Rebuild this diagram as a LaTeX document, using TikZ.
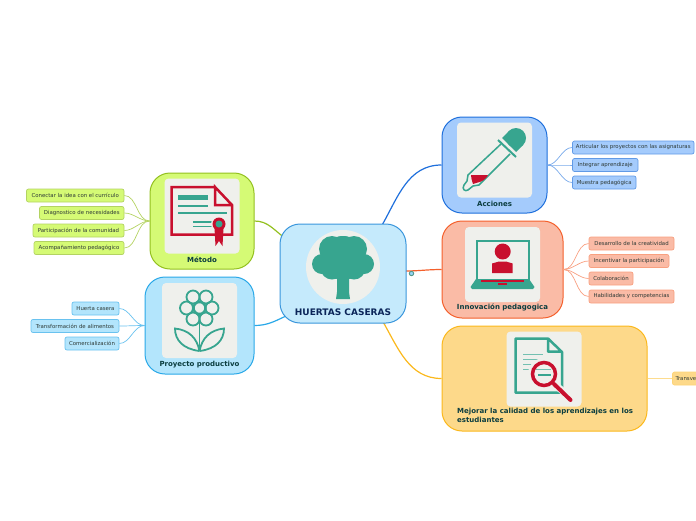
\documentclass[tikz,border=0pt]{standalone}
\usepackage{fontspec}
\usetikzlibrary{backgrounds}
\setmainfont{DejaVu Sans}
\definecolor{paper}{HTML}{EFF0EC}
\definecolor{teal1}{HTML}{37A58F}
\definecolor{red1}{HTML}{C8102E}
\definecolor{inkA}{HTML}{0B3D3F}
\definecolor{inkB}{HTML}{0B2559}
\definecolor{inkC}{HTML}{2E3A36}
\definecolor{fillH}{HTML}{C5EAFC}
\definecolor{lineH}{HTML}{3A96DC}
\definecolor{fillM}{HTML}{D5FA75}
\definecolor{lineM}{HTML}{93C01F}
\definecolor{fillP}{HTML}{B3E5FC}
\definecolor{lineP}{HTML}{29A8E8}
\definecolor{fillA}{HTML}{A4CBFC}
\definecolor{lineA}{HTML}{1E6FDC}
\definecolor{fillI}{HTML}{FABBA6}
\definecolor{lineI}{HTML}{F4602C}
\definecolor{fillC}{HTML}{FDD98A}
\definecolor{lineC}{HTML}{FBB81C}
\begin{document}
\begin{tikzpicture}[
                x=1pt, y=-1pt,
                % Stile dei riquadri principali
                topic/.style={
                    rounded corners=20pt,
                    line width=1pt,
                    inner sep=0pt
                },
                picbox/.style={
                    fill=paper,
                    rounded corners=4pt,
                    minimum width=75pt,
                    minimum height=75pt,
                    inner sep=0pt
                },
                toplabel/.style={
                    font=\fontsize{7}{9}\selectfont\bfseries,
                    text=inkA,
                    inner sep=0pt
                },
                leaf/.style={
                    rounded corners=2pt,
                    line width=0.7pt,
                    inner sep=0pt,
                    minimum height=13pt,
                    font=\fontsize{5.4}{6}\selectfont,
                    text=inkC
                },
                stem/.style={line width=0.7pt, out=180, in=0, looseness=0.9},
                stemr/.style={line width=0.7pt, out=0, in=180, looseness=0.9},
                branch/.style={line width=1.2pt}
            ]

                \useasboundingbox (0,0) rectangle (696,520);
                \clip (0,0) rectangle (696,520);

                % --- Main boxes ---
                \node[topic, draw=lineH, fill=fillH, minimum width=126pt, minimum height=99pt] (Huertas) at (343,273.5) {};
                \node[topic, draw=lineM, fill=fillM, minimum width=104pt, minimum height=96pt] (Metodo) at (202,221) {};
                \node[topic, draw=lineP, fill=fillP, minimum width=109pt, minimum height=97pt] (Proyecto) at (199.5,325.5) {};
                \node[topic, draw=lineA, fill=fillA, minimum width=105pt, minimum height=96pt] (Acciones) at (494.5,165) {};
                \node[topic, draw=lineI, fill=fillI, minimum width=121pt, minimum height=97pt] (Innovacion) at (502.5,269.5) {};
                \node[topic, draw=lineC, fill=fillC, minimum width=205pt, minimum height=105pt] (Mejorar) at (544.5,378.5) {};

                % --- Branch ends on the central box ---
                \coordinate (hubA) at (381,227);
                \coordinate (hubI) at (405,271);
                \coordinate (hubC) at (382,320);
                \coordinate (hubM) at (285,238);
                \coordinate (hubP) at (286,316);

                % --- Picture tiles ---
                \node[fill=paper, circle, minimum size=74pt, inner sep=0pt] (picH) at (343,267) {};
                \node[picbox] (picM) at (202,216) {};
                \node[picbox] (picP) at (199.5,320.5) {};
                \node[picbox] (picA) at (494.5,160) {};
                \node[picbox] (picI) at (502.5,264.5) {};
                \node[picbox] (picC) at (544,369) {};

                % --- Labels ---
                \node[toplabel, font=\fontsize{9}{10}\selectfont\bfseries, text=inkB] (lblH) at (343,312) {HUERTAS CASERAS};
                \node[toplabel] (lblM) at (202,259.5) {Método};
                \node[toplabel] (lblP) at (199.5,364.5) {Proyecto productivo};
                \node[toplabel] (lblA) at (494.5,203.5) {Acciones};
                \node[toplabel] (lblI) at (502.5,307.5) {Innovación pedagogica};
                \node[toplabel, anchor=north west, align=left] (lblC) at (457,407.5) {Mejorar la calidad de los aprendizajes en los\\estudiantes};

                % --- Leaves ---
                \node[leaf, draw=lineM!70, fill=fillM, minimum width=97.5pt] (m1) at (75.25,195.5) {Conectar la idea con el currículo};
                \node[leaf, draw=lineM!70, fill=fillM, minimum width=84.5pt] (m2) at (81.75,213) {Diagnostico de necesidades};
                \node[leaf, draw=lineM!70, fill=fillM, minimum width=91pt] (m3) at (78.5,230.5) {Participación de la comunidad};
                \node[leaf, draw=lineM!70, fill=fillM, minimum width=90pt] (m4) at (79,248) {Acompañamiento pedagógico};

                \node[leaf, draw=lineP!70, fill=fillP, minimum width=47pt] (p1) at (95.5,308.5) {Huerta casera};
                \node[leaf, draw=lineP!70, fill=fillP, minimum width=88pt] (p2) at (75,326) {Transformación de alimentos};
                \node[leaf, draw=lineP!70, fill=fillP, minimum width=54pt] (p3) at (92,343.5) {Comercialización};

                \node[leaf, draw=lineA!70, fill=fillA, minimum width=121.5pt] (a1) at (633.25,147.5) {Articular los proyectos con las asignaturas};
                \node[leaf, draw=lineA!70, fill=fillA, minimum width=65.5pt] (a2) at (605.25,165) {Integrar aprendizaje};
                \node[leaf, draw=lineA!70, fill=fillA, minimum width=63.5pt] (a3) at (604.25,182.5) {Muestra pedagógica};

                \node[leaf, draw=lineI!60, fill=fillI, minimum width=85pt] (i1) at (631.5,243.5) {Desarrollo de la creatividad};
                \node[leaf, draw=lineI!60, fill=fillI, minimum width=80pt] (i2) at (629,261) {Incentivar la participación};
                \node[leaf, draw=lineI!60, fill=fillI, minimum width=44pt] (i3) at (611,278.5) {Colaboración};
                \node[leaf, draw=lineI!60, fill=fillI, minimum width=85pt] (i4) at (631.5,296.5) {Habilidades y competencias};

                \node[leaf, draw=lineC!60, fill=fillC, minimum width=60pt, text width=54pt, align=left] (c1) at (702.5,378.5) {Transve};

                % --- Main branches ---
                \begin{scope}[on background layer]
                \draw[branch, lineA] (hubA) to[out=60, in=180] (Acciones.west);
                \draw[branch, lineI] (hubI) to[out=0, in=180] (Innovacion.west);
                \draw[branch, lineC] (hubC) to[out=-60, in=180] (Mejorar.west);
                \draw[branch, lineM] (Metodo.east) to[out=0, in=145] (hubM);
                \draw[branch, lineP] (Proyecto.east) to[out=0, in=-155] (hubP);
                \end{scope}

                % --- Leaf connectors ---
                \draw[stem, lineM!70] (Metodo.west) to (m1.east);
                \draw[stem, lineM!70] (Metodo.west) to (m2.east);
                \draw[stem, lineM!70] (Metodo.west) to (m3.east);
                \draw[stem, lineM!70] (Metodo.west) to (m4.east);
                \draw[stem, lineP!70] (Proyecto.west) to (p1.east);
                \draw[stem, lineP!70] (Proyecto.west) to (p2.east);
                \draw[stem, lineP!70] (Proyecto.west) to (p3.east);
                \draw[stemr, lineA!60] (Acciones.east) to (a1.west);
                \draw[stemr, lineA!60] (Acciones.east) to (a2.west);
                \draw[stemr, lineA!60] (Acciones.east) to (a3.west);
                \draw[stemr, lineI!60] (Innovacion.east) to (i1.west);
                \draw[stemr, lineI!60] (Innovacion.east) to (i2.west);
                \draw[stemr, lineI!60] (Innovacion.east) to (i3.west);
                \draw[stemr, lineI!60] (Innovacion.east) to (i4.west);
                \draw[stemr, lineC!50] (Mejorar.east) to (c1.west);

                % --- Link badge ---
                \draw[line width=0.9pt, teal1!60!gray, fill=lineP!50] (411.5,273.5) circle (2.2pt);

                % --- Tree ---
                \fill[teal1] (322,264) circle (10pt);
                \fill[teal1] (364,264) circle (10pt);
                \fill[teal1] (343,258) ellipse (21pt and 22pt);
                \fill[teal1] (343,250) circle (14pt);
                \fill[teal1] (332,249) circle (13pt);
                \fill[teal1] (354,249) circle (13pt);
                \fill[teal1] (332,268) circle (11.5pt);
                \fill[teal1] (354,268) circle (11.5pt);
                \fill[teal1] (337,275) -- (349,275) -- (349,292) -- (350,299) -- (336,299) -- (337,292) -- cycle;

                % --- Certificate ---
                \draw[red1, line width=2.5pt, line join=miter] (215,187) -- (171.5,187) -- (171.5,234.5) -- (232,234.5) -- (232,205) -- (215,187) -- (215,205) -- (232,205);
                \fill[teal1] (178,194.5) rectangle (208,200);
                \draw[teal1, line width=1.3pt] (178,206) -- (208,206);
                \draw[teal1, line width=1.3pt] (178,213) -- (227,213);
                \draw[teal1, line width=1.3pt] (193,222) -- (212,222);
                \draw[teal1, line width=1.3pt] (193,226.5) -- (212,226.5);
                \fill[paper] (219,224) circle (8pt);
                \fill[red1] (214.5,228) -- (215.5,246) -- (219,241) -- (222.5,246) -- (223.5,228) -- cycle;
                \fill[red1] (219,224) circle (6.5pt);
                \fill[teal1] (219,224) circle (3.5pt);

                % --- Flower ---
                \draw[teal1, line width=1.8pt] (193,297) circle (6.5pt);
                \draw[teal1, line width=1.8pt] (206,297) circle (6.5pt);
                \draw[teal1, line width=1.8pt] (186.5,308) circle (6.5pt);
                \draw[teal1, line width=1.8pt] (212,308) circle (6.5pt);
                \draw[teal1, line width=1.8pt] (193,319) circle (6.5pt);
                \draw[teal1, line width=1.8pt] (206,319) circle (6.5pt);
                \draw[teal1, line width=2.4pt, fill=paper] (199.5,308) circle (6pt);
                \draw[teal1, line width=1.8pt] (199.5,314) -- (199.5,351);
                \draw[teal1, line width=1.8pt] (199.5,351) .. controls (183,349) and (175,340) .. (175,328.5) .. controls (189,330) and (197,338) .. (199.5,351);
                \draw[teal1, line width=1.8pt] (199.5,351) .. controls (216,349) and (224,340) .. (224,328.5) .. controls (210,330) and (202,338) .. (199.5,351);

                % --- Dropper ---
                \fill[teal1] (516,138) circle (10pt);
                \fill[teal1] (509,131) -- (502,138) -- (516,152) -- (523,145) -- cycle;
                \draw[teal1, line width=2pt] (498,140) -- (516,157);
                \draw[teal1, line width=1.5pt, line join=round] (501,144) -- (468,175) -- (467,181) -- (464,185) .. controls (461.5,189) and (465,192) .. (468,190) -- (473,186) -- (479,185) -- (510,154);
                \fill[red1] (471,175) -- (488,175) .. controls (486,179) and (482,182) .. (476,183) -- (473,184) .. controls (472,181) and (471,178) .. (471,175) -- cycle;

                % --- Laptop ---
                \draw[teal1, line width=2pt, fill=paper] (476.5,240.5) rectangle (528.5,280);
                \fill[teal1] (476,279) -- (529,279) -- (534.5,287) -- (533,289) -- (472,289) -- (470.5,287) -- cycle;
                \fill[red1] (481,279.5) rectangle (524,281.5);
                \fill[red1] (498,282.5) rectangle (507,284.5);
                \fill[red1] (502.7,251.5) circle (8pt);
                \fill[red1] (492,263.5) -- (499,261.5) -- (506,261.5) -- (512.7,263.5) -- (512.7,273) -- (492,273) -- cycle;

                % --- Document and lens ---
                \draw[teal1, line width=2.5pt, line join=round] (548,338.5) -- (515.5,338.5) -- (515.5,392.5) -- (562,392.5) -- (562,352) -- (548,338.5) -- (548,351.5) -- (562,351.5);
                \draw[teal1!70, line width=0.9pt] (523,354) -- (543,354);
                \draw[teal1!70, line width=0.9pt] (523,359) -- (543,359);
                \draw[teal1!70, line width=0.9pt] (523,364) -- (543,364);
                \draw[teal1!70, line width=0.9pt] (523,369) -- (532,369);
                \draw[paper, line width=7pt] (553,383) -- (572,399);
                \fill[paper] (544,374) circle (16pt);
                \draw[teal1!70, line width=0.9pt] (536,369) -- (551,369);
                \draw[teal1, line width=1.5pt] (538,375) -- (551,375);
                \draw[red1, line width=4pt, line cap=round] (554,384) -- (570.5,400);
                \draw[red1, line width=3.5pt] (544,374) circle (11.5pt);

            \end{tikzpicture}
\end{document}
